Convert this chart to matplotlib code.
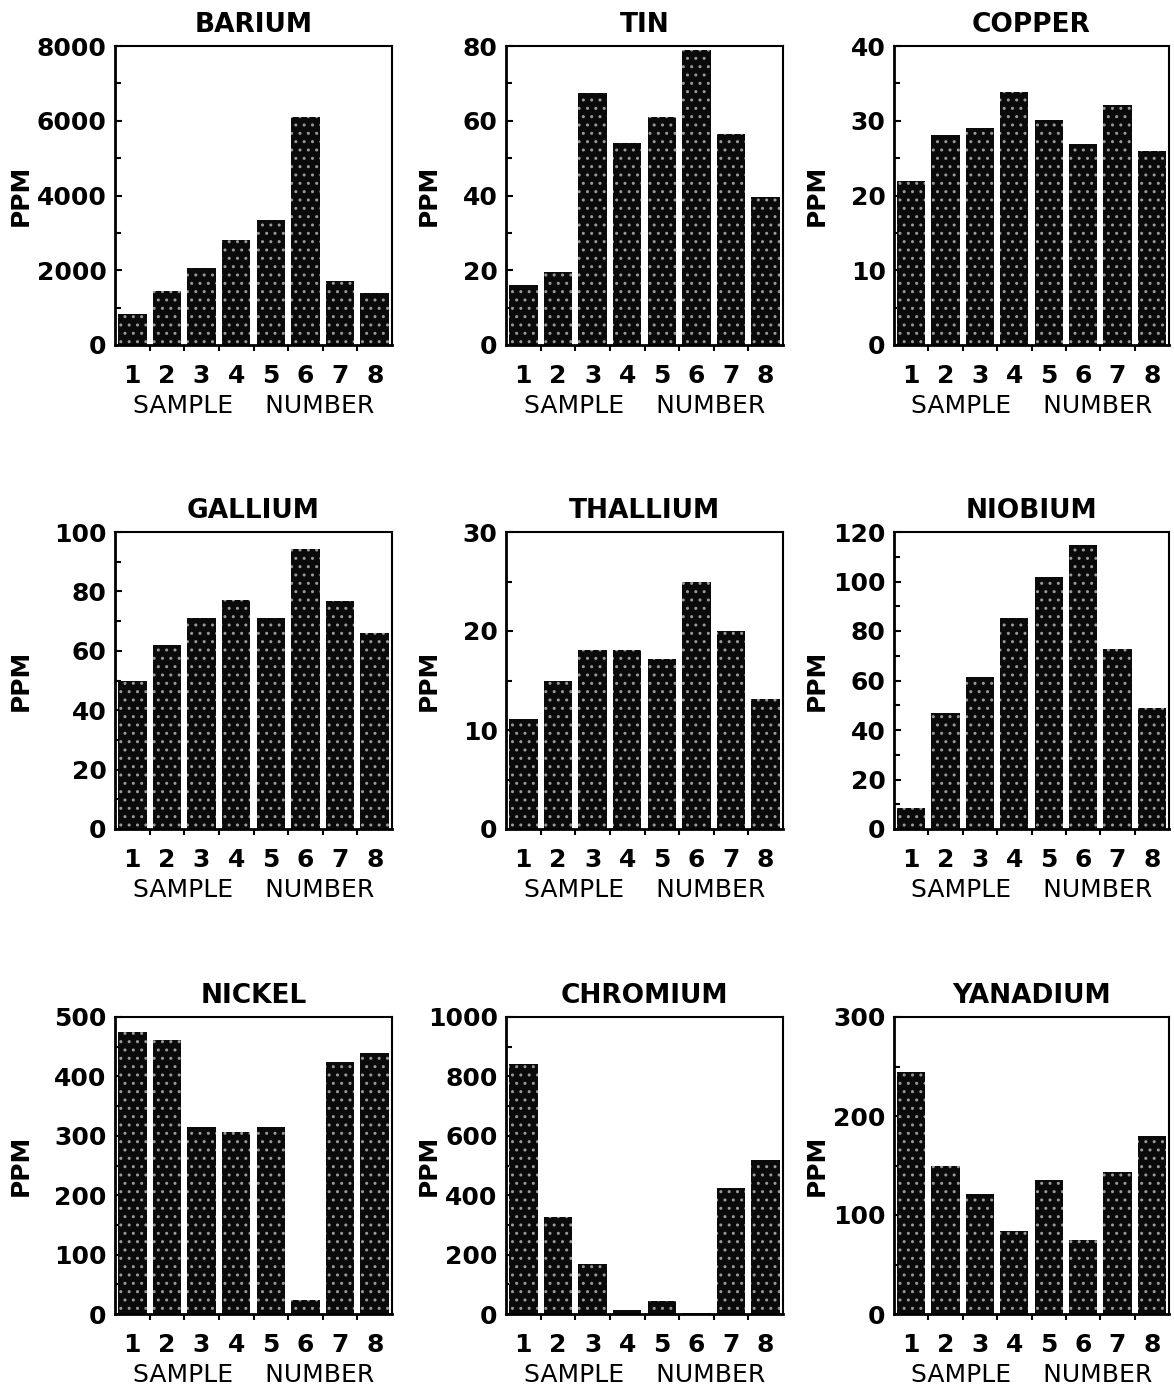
import matplotlib
matplotlib.use("Agg")
import matplotlib.pyplot as plt
from matplotlib.ticker import MultipleLocator

# sample numbers on the x axis
samples = [1, 2, 3, 4, 5, 6, 7, 8]

# element concentrations (ppm)
barium = [820, 1450, 2050, 2800, 3350, 6100, 1700, 1400]
tin = [16, 19.6, 67.3, 54, 61, 79, 56.5, 39.5]
copper = [22, 28.1, 29, 33.9, 30.1, 26.9, 32.1, 26]
gallium = [50, 61.8, 71, 77, 71, 94.4, 76.8, 66]
thallium = [11.1, 15, 18.1, 18.1, 17.2, 25, 20, 13.1]
niobium = [8.5, 47, 61.6, 85.2, 101.7, 114.9, 72.9, 48.7]
nickel = [475, 462, 315, 307, 315, 24, 425, 440]
chromium = [842, 327, 168, 14, 45, 2, 424, 520]
vanadium = [244, 150, 121, 84, 135, 75, 143, 180]

titles = ["BARIUM", "TIN", "COPPER", "GALLIUM", "THALLIUM", "NIOBIUM",
          "NICKEL", "CHROMIUM", "YANADIUM"]
series = [barium, tin, copper, gallium, thallium, niobium,
          nickel, chromium, vanadium]
ymax = [8000, 80, 40, 100, 30, 120, 500, 1000, 300]
ystep = [2000, 20, 10, 20, 10, 20, 100, 200, 100]
yminor = [1000, 10, 5, 10, 5, 10, 50, 100, 50]

W, H = 1174, 1395
lefts = [115, 506, 894]
rights = [392, 783, 1169]
tops = [46, 532, 1017]
bottoms = [345, 829, 1314]

plt.rcParams['font.family'] = ['DejaVu Sans']
plt.rcParams['hatch.linewidth'] = 1.0

fig = plt.figure(figsize=(W / 100, H / 100), dpi=100)

for i in range(9):
    r, c = divmod(i, 3)
    ax = fig.add_axes([lefts[c] / W, 1 - bottoms[r] / H,
                       (rights[c] - lefts[c]) / W, (bottoms[r] - tops[r]) / H])
    vals = series[i]
    ax.bar(samples, vals, width=0.82, color='#0a0a0a', linewidth=0, zorder=2)
    # sparse white dot screen on top of the bars
    ax.bar(samples, vals, width=0.82, facecolor='none', edgecolor='#9a9a9a',
           linewidth=0, hatch='..', zorder=3)

    ax.set_xlim(0.5, 8.5)
    ax.set_ylim(0, ymax[i])
    ax.yaxis.set_major_locator(MultipleLocator(ystep[i]))
    ax.yaxis.set_minor_locator(MultipleLocator(yminor[i]))

    # x: labels at bar centres, tick marks between bars
    ax.set_xticks(samples)
    ax.set_xticklabels([str(s) for s in samples], fontsize=18, fontweight='bold')
    ax.tick_params(axis='x', which='major', length=0, pad=14)
    ax.set_xticks([s + 0.5 for s in samples[:-1]], minor=True)
    ax.tick_params(axis='x', which='minor', direction='out', length=4, width=1.5)

    ax.tick_params(axis='y', which='both', direction='in', width=1.5)
    ax.tick_params(axis='y', which='major', length=5, pad=6, labelsize=18)
    ax.tick_params(axis='y', which='minor', length=4)
    for lab in ax.get_yticklabels():
        lab.set_fontweight('bold')

    for sp in ax.spines.values():
        sp.set_linewidth(1.5)
    ax.spines['left'].set_linewidth(2)
    ax.spines['bottom'].set_linewidth(2)

    ax.set_title(titles[i], fontsize=19, fontweight='bold', pad=10)
    ax.set_xlabel("SAMPLE    NUMBER", fontsize=18, labelpad=4)
    ax.set_ylabel("PPM", fontsize=18, fontweight='bold')
    dx = 82 if c == 0 else 65
    ax.yaxis.set_label_coords(-dx / (rights[c] - lefts[c]), 0.5)

fig.savefig("out.png", dpi=100, facecolor='white')
